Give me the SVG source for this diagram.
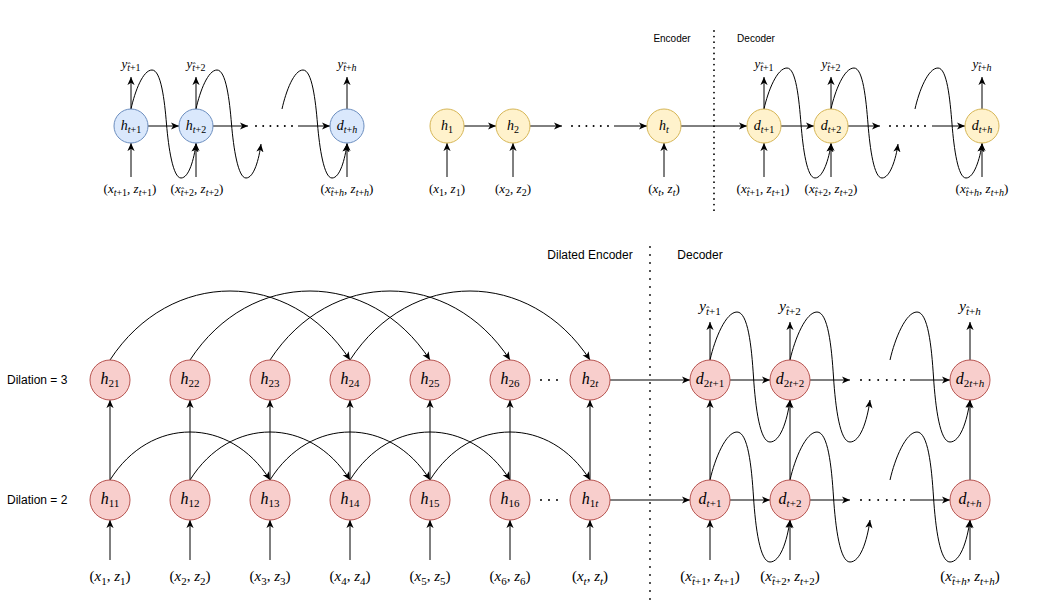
<svg xmlns="http://www.w3.org/2000/svg" width="1041" height="603" viewBox="0 0 1041 603">
<style>
.bg{fill:#fff}
.blue{fill:#dae8fc;stroke:#6c8ebf;stroke-width:1}
.yel{fill:#fff2cc;stroke:#d6b656;stroke-width:1}
.red{fill:#f8cecc;stroke:#b85450;stroke-width:1}
.e{fill:none;stroke:#000;stroke-width:1;marker-end:url(#a)}
.dot{fill:none;stroke:#000;stroke-width:2;stroke-linecap:round}
.vd{fill:none;stroke:#000;stroke-width:1.8;stroke-linecap:round}
.m{font-family:"Liberation Serif","DejaVu Serif",serif;text-anchor:middle;fill:#000}
.i{font-style:italic}
.b{font-size:16px}
.bl{font-size:15px}
.bs{font-size:11px}
.t{font-size:14px}
.tl{font-size:13px}
.ts{font-size:10px}
.lab{font-family:"Liberation Sans",Arial,sans-serif;fill:#000}
</style>
<defs>
<marker id="a" viewBox="0 0 10 10" refX="9" refY="5" markerWidth="9" markerHeight="9" orient="auto" markerUnits="userSpaceOnUse">
<path d="M0,1 L9,5 L0,9 L2.5,5 z" fill="#000"/>
</marker>
</defs>
<rect class="bg" x="0" y="0" width="1041" height="603"/>

<g id="connectors">
<!-- top left -->
<line class="e" x1="148" y1="126" x2="179" y2="126"/>
<line class="e" x1="213" y1="126" x2="248" y2="126"/>
<line class="dot" x1="256" y1="126" x2="292.5" y2="126" stroke-dasharray="0 7.2"/>
<line class="e" x1="298" y1="126" x2="330" y2="126"/>
<line class="e" x1="131" y1="109" x2="131" y2="77"/>
<line class="e" x1="196" y1="109" x2="196" y2="77"/>
<line class="e" x1="347" y1="109" x2="347" y2="77"/>
<line class="e" x1="131" y1="177" x2="131" y2="143"/>
<line class="e" x1="196" y1="177" x2="196" y2="143"/>
<line class="e" x1="347" y1="177" x2="347" y2="143"/>
<path class="e" transform="translate(131,109)" d="M0,0 C4,-18 12,-39 21,-39 C30,-39 33.5,-9 35.5,15 C37.5,39 42,69 50,69 C58,69 63,50 65,35"/>
<path class="e" transform="translate(196,109)" d="M0,0 C4,-18 12,-39 21,-39 C30,-39 33.5,-9 35.5,15 C37.5,39 42,69 50,69 C58,69 63,50 65,35"/>
<path class="e" transform="translate(282,109)" d="M0,0 C4,-18 12,-39 21,-39 C30,-39 33.5,-9 35.5,15 C37.5,39 42,69 50,69 C58,69 63,50 65,35"/>
<!-- top middle -->
<line class="e" x1="464" y1="126" x2="496" y2="126"/>
<line class="e" x1="530" y1="126" x2="562" y2="126"/>
<line class="dot" x1="572" y1="126" x2="608.5" y2="126" stroke-dasharray="0 7.2"/>
<line class="e" x1="614" y1="126" x2="647" y2="126"/>
<line class="e" x1="681" y1="126" x2="747" y2="126"/>
<line class="e" x1="447" y1="177" x2="447" y2="143"/>
<line class="e" x1="513" y1="177" x2="513" y2="143"/>
<line class="e" x1="664" y1="177" x2="664" y2="143"/>
<line class="vd" x1="714" y1="31" x2="714" y2="212" stroke-dasharray="0 5.6"/>
<!-- top right -->
<line class="e" x1="781" y1="126" x2="814" y2="126"/>
<line class="e" x1="848" y1="126" x2="880" y2="126"/>
<line class="dot" x1="890" y1="126" x2="925.5" y2="126" stroke-dasharray="0 7"/>
<line class="e" x1="932" y1="126" x2="965" y2="126"/>
<line class="e" x1="764" y1="109" x2="764" y2="77"/>
<line class="e" x1="831" y1="109" x2="831" y2="77"/>
<line class="e" x1="982" y1="109" x2="982" y2="77"/>
<line class="e" x1="764" y1="177" x2="764" y2="143"/>
<line class="e" x1="831" y1="177" x2="831" y2="143"/>
<line class="e" x1="982" y1="177" x2="982" y2="143"/>
<path class="e" transform="translate(764,109)" d="M0,0 C4,-18 13,-41 23,-41 C32,-41 35,-10 37,15 C39,40 43,69 51,69 C59,69 65,50 67,35"/>
<path class="e" transform="translate(831,109)" d="M0,0 C4,-18 13,-41 23,-41 C32,-41 35,-10 37,15 C39,40 43,69 51,69 C59,69 65,50 67,35"/>
<path class="e" transform="translate(915,109)" d="M0,0 C4,-18 13,-41 23,-41 C32,-41 35,-10 37,15 C39,40 43,69 51,69 C59,69 65,50 67,35"/>

<!-- bottom: dilation 3 arcs -->
<path class="e" d="M110,360 C170,268 290,268 350,360"/>
<path class="e" d="M190,360 C250,268 370,268 430,360"/>
<path class="e" d="M270,360 C330,268 450,268 510,360"/>
<path class="e" d="M350,360 C410,268 530,268 590,360"/>
<!-- dilation 2 arcs -->
<path class="e" d="M110,480 C150,416 230,416 270,480"/>
<path class="e" d="M190,480 C230,416 310,416 350,480"/>
<path class="e" d="M270,480 C310,416 390,416 430,480"/>
<path class="e" d="M350,480 C390,416 470,416 510,480"/>
<path class="e" d="M430,480 C470,416 550,416 590,480"/>
<!-- vertical level 1 -> level 2 -->
<line class="e" x1="110" y1="480" x2="110" y2="400"/>
<line class="e" x1="190" y1="480" x2="190" y2="400"/>
<line class="e" x1="270" y1="480" x2="270" y2="400"/>
<line class="e" x1="350" y1="480" x2="350" y2="400"/>
<line class="e" x1="430" y1="480" x2="430" y2="400"/>
<line class="e" x1="510" y1="480" x2="510" y2="400"/>
<line class="e" x1="590" y1="480" x2="590" y2="400"/>
<line class="e" x1="710" y1="480" x2="710" y2="400"/>
<line class="e" x1="790" y1="480" x2="790" y2="400"/>
<line class="e" x1="970" y1="480" x2="970" y2="400"/>
<!-- inputs -->
<line class="e" x1="110" y1="560" x2="110" y2="520"/>
<line class="e" x1="190" y1="560" x2="190" y2="520"/>
<line class="e" x1="270" y1="560" x2="270" y2="520"/>
<line class="e" x1="350" y1="560" x2="350" y2="520"/>
<line class="e" x1="430" y1="560" x2="430" y2="520"/>
<line class="e" x1="510" y1="560" x2="510" y2="520"/>
<line class="e" x1="590" y1="560" x2="590" y2="520"/>
<line class="e" x1="710" y1="560" x2="710" y2="520"/>
<line class="e" x1="790" y1="560" x2="790" y2="520"/>
<line class="e" x1="970" y1="560" x2="970" y2="520"/>
<!-- outputs -->
<line class="e" x1="710" y1="360" x2="710" y2="322"/>
<line class="e" x1="790" y1="360" x2="790" y2="322"/>
<line class="e" x1="970" y1="360" x2="970" y2="322"/>
<!-- ellipsis dots -->
<line class="dot" x1="541" y1="380" x2="557.5" y2="380" stroke-dasharray="0 8"/>
<line class="dot" x1="541" y1="500" x2="557.5" y2="500" stroke-dasharray="0 8"/>
<!-- encoder -> decoder -->
<line class="e" x1="610" y1="380" x2="690" y2="380"/>
<line class="e" x1="610" y1="500" x2="690" y2="500"/>
<line class="vd" x1="650" y1="247" x2="650" y2="600" stroke-dasharray="0 8"/>
<!-- decoder rows -->
<line class="e" x1="730" y1="380" x2="770" y2="380"/>
<line class="e" x1="810" y1="380" x2="850" y2="380"/>
<line class="dot" x1="861" y1="380" x2="904.5" y2="380" stroke-dasharray="0 8.6"/>
<line class="e" x1="910" y1="380" x2="950" y2="380"/>
<line class="e" x1="730" y1="500" x2="770" y2="500"/>
<line class="e" x1="810" y1="500" x2="850" y2="500"/>
<line class="dot" x1="861" y1="500" x2="904.5" y2="500" stroke-dasharray="0 8.6"/>
<line class="e" x1="910" y1="500" x2="950" y2="500"/>
<path class="e" transform="translate(710,360)" d="M0,0 C5,-22 16,-48 27,-48 C38,-48 41.5,-14 43.5,17 C45.5,48 50,82 60,82 C70,82 77,62 80,40"/>
<path class="e" transform="translate(790,360)" d="M0,0 C5,-22 16,-48 27,-48 C38,-48 41.5,-14 43.5,17 C45.5,48 50,82 60,82 C70,82 77,62 80,40"/>
<path class="e" transform="translate(890,360)" d="M0,0 C5,-22 16,-48 27,-48 C38,-48 41.5,-14 43.5,17 C45.5,48 50,82 60,82 C70,82 77,62 80,40"/>
<path class="e" transform="translate(710,480)" d="M0,0 C5,-22 16,-48 27,-48 C38,-48 41.5,-14 43.5,17 C45.5,48 50,82 60,82 C70,82 77,62 80,40"/>
<path class="e" transform="translate(790,480)" d="M0,0 C5,-22 16,-48 27,-48 C38,-48 41.5,-14 43.5,17 C45.5,48 50,82 60,82 C70,82 77,62 80,40"/>
<path class="e" transform="translate(890,480)" d="M0,0 C5,-22 16,-48 27,-48 C38,-48 41.5,-14 43.5,17 C45.5,48 50,82 60,82 C70,82 77,62 80,40"/>
</g>

<!-- TOP LEFT NODES -->
<g id="tl_h1"><circle class="blue" cx="131" cy="126" r="17"/><text class="m t" x="131" y="130"><tspan class="i">h</tspan><tspan class="ts" dy="3"><tspan class="i">t</tspan>+1</tspan></text></g>
<g id="tl_h2"><circle class="blue" cx="196" cy="126" r="17"/><text class="m t" x="196" y="130"><tspan class="i">h</tspan><tspan class="ts" dy="3"><tspan class="i">t</tspan>+2</tspan></text></g>
<g id="tl_dh"><circle class="blue" cx="347" cy="126" r="17"/><text class="m t" x="347" y="130"><tspan class="i">d</tspan><tspan class="ts" dy="3"><tspan class="i">t</tspan>+<tspan class="i">h</tspan></tspan></text></g>
<g id="tl_labels">
<text class="m tl" x="131" y="68"><tspan class="i">y</tspan><tspan class="ts" dy="3"><tspan class="i">t&#x302;</tspan>+1</tspan></text>
<text class="m tl" x="196" y="68"><tspan class="i">y</tspan><tspan class="ts" dy="3"><tspan class="i">t&#x302;</tspan>+2</tspan></text>
<text class="m tl" x="347" y="68"><tspan class="i">y</tspan><tspan class="ts" dy="3"><tspan class="i">t&#x302;</tspan>+<tspan class="i">h</tspan></tspan></text>
<text class="m tl" x="130" y="193">(<tspan class="i">x</tspan><tspan class="ts" dy="3"><tspan class="i">t</tspan>+1</tspan><tspan dy="-3">, </tspan><tspan class="i">z</tspan><tspan class="ts" dy="3"><tspan class="i">t</tspan>+1</tspan><tspan dy="-3">)</tspan></text>
<text class="m tl" x="197" y="193">(<tspan class="i">x</tspan><tspan class="ts" dy="3"><tspan class="i">t&#x302;</tspan>+2</tspan><tspan dy="-3">, </tspan><tspan class="i">z</tspan><tspan class="ts" dy="3"><tspan class="i">t</tspan>+2</tspan><tspan dy="-3">)</tspan></text>
<text class="m tl" x="347" y="193">(<tspan class="i">x</tspan><tspan class="ts" dy="3"><tspan class="i">t&#x302;</tspan>+<tspan class="i">h</tspan></tspan><tspan dy="-3">, </tspan><tspan class="i">z</tspan><tspan class="ts" dy="3"><tspan class="i">t</tspan>+<tspan class="i">h</tspan></tspan><tspan dy="-3">)</tspan></text>
</g>

<!-- TOP MIDDLE NODES -->
<g id="tm_h1"><circle class="yel" cx="447" cy="126" r="17"/><text class="m t" x="447" y="130"><tspan class="i">h</tspan><tspan class="ts" dy="3">1</tspan></text></g>
<g id="tm_h2"><circle class="yel" cx="513" cy="126" r="17"/><text class="m t" x="513" y="130"><tspan class="i">h</tspan><tspan class="ts" dy="3">2</tspan></text></g>
<g id="tm_ht"><circle class="yel" cx="664" cy="126" r="17"/><text class="m t" x="664" y="130"><tspan class="i">h</tspan><tspan class="ts i" dy="3">t</tspan></text></g>
<g id="tm_labels">
<text class="m tl" x="447" y="193">(<tspan class="i">x</tspan><tspan class="ts" dy="3">1</tspan><tspan dy="-3">, </tspan><tspan class="i">z</tspan><tspan class="ts" dy="3">1</tspan><tspan dy="-3">)</tspan></text>
<text class="m tl" x="513" y="193">(<tspan class="i">x</tspan><tspan class="ts" dy="3">2</tspan><tspan dy="-3">, </tspan><tspan class="i">z</tspan><tspan class="ts" dy="3">2</tspan><tspan dy="-3">)</tspan></text>
<text class="m tl" x="664" y="193">(<tspan class="i">x</tspan><tspan class="ts i" dy="3">t</tspan><tspan dy="-3">, </tspan><tspan class="i">z</tspan><tspan class="ts i" dy="3">t</tspan><tspan dy="-3">)</tspan></text>
<text class="lab" x="672" y="42" font-size="10" text-anchor="middle">Encoder</text>
<text class="lab" x="756" y="42" font-size="10" text-anchor="middle">Decoder</text>
</g>

<!-- TOP RIGHT NODES -->
<g id="tr_d1"><circle class="yel" cx="764" cy="126" r="17"/><text class="m t" x="764" y="130"><tspan class="i">d</tspan><tspan class="ts" dy="3"><tspan class="i">t</tspan>+1</tspan></text></g>
<g id="tr_d2"><circle class="yel" cx="831" cy="126" r="17"/><text class="m t" x="831" y="130"><tspan class="i">d</tspan><tspan class="ts" dy="3"><tspan class="i">t</tspan>+2</tspan></text></g>
<g id="tr_dh"><circle class="yel" cx="982" cy="126" r="17"/><text class="m t" x="982" y="130"><tspan class="i">d</tspan><tspan class="ts" dy="3"><tspan class="i">t</tspan>+<tspan class="i">h</tspan></tspan></text></g>
<g id="tr_labels">
<text class="m tl" x="764" y="68"><tspan class="i">y</tspan><tspan class="ts" dy="3"><tspan class="i">t&#x302;</tspan>+1</tspan></text>
<text class="m tl" x="831" y="68"><tspan class="i">y</tspan><tspan class="ts" dy="3"><tspan class="i">t&#x302;</tspan>+2</tspan></text>
<text class="m tl" x="982" y="68"><tspan class="i">y</tspan><tspan class="ts" dy="3"><tspan class="i">t&#x302;</tspan>+<tspan class="i">h</tspan></tspan></text>
<text class="m tl" x="763" y="193">(<tspan class="i">x</tspan><tspan class="ts" dy="3"><tspan class="i">t&#x302;</tspan>+1</tspan><tspan dy="-3">, </tspan><tspan class="i">z</tspan><tspan class="ts" dy="3"><tspan class="i">t</tspan>+1</tspan><tspan dy="-3">)</tspan></text>
<text class="m tl" x="831" y="193">(<tspan class="i">x</tspan><tspan class="ts" dy="3"><tspan class="i">t&#x302;</tspan>+2</tspan><tspan dy="-3">, </tspan><tspan class="i">z</tspan><tspan class="ts" dy="3"><tspan class="i">t</tspan>+2</tspan><tspan dy="-3">)</tspan></text>
<text class="m tl" x="982" y="193">(<tspan class="i">x</tspan><tspan class="ts" dy="3"><tspan class="i">t&#x302;</tspan>+<tspan class="i">h</tspan></tspan><tspan dy="-3">, </tspan><tspan class="i">z</tspan><tspan class="ts" dy="3"><tspan class="i">t</tspan>+<tspan class="i">h</tspan></tspan><tspan dy="-3">)</tspan></text>
</g>

<!-- BOTTOM -->
<g id="bottom_titles">
<text class="lab" x="7" y="384" font-size="12">Dilation = 3</text>
<text class="lab" x="7" y="504" font-size="12">Dilation = 2</text>
<text class="lab" x="590" y="259" font-size="12" text-anchor="middle">Dilated Encoder</text>
<text class="lab" x="700" y="259" font-size="12" text-anchor="middle">Decoder</text>
</g>
<g id="h21"><circle class="red" cx="110" cy="380" r="20"/><text class="m b" x="110" y="384"><tspan class="i">h</tspan><tspan class="bs" dy="3">21</tspan></text></g>
<g id="h22"><circle class="red" cx="190" cy="380" r="20"/><text class="m b" x="190" y="384"><tspan class="i">h</tspan><tspan class="bs" dy="3">22</tspan></text></g>
<g id="h23"><circle class="red" cx="270" cy="380" r="20"/><text class="m b" x="270" y="384"><tspan class="i">h</tspan><tspan class="bs" dy="3">23</tspan></text></g>
<g id="h24"><circle class="red" cx="350" cy="380" r="20"/><text class="m b" x="350" y="384"><tspan class="i">h</tspan><tspan class="bs" dy="3">24</tspan></text></g>
<g id="h25"><circle class="red" cx="430" cy="380" r="20"/><text class="m b" x="430" y="384"><tspan class="i">h</tspan><tspan class="bs" dy="3">25</tspan></text></g>
<g id="h26"><circle class="red" cx="510" cy="380" r="20"/><text class="m b" x="510" y="384"><tspan class="i">h</tspan><tspan class="bs" dy="3">26</tspan></text></g>
<g id="h2t"><circle class="red" cx="590" cy="380" r="20"/><text class="m b" x="590" y="384"><tspan class="i">h</tspan><tspan class="bs" dy="3">2<tspan class="i">t</tspan></tspan></text></g>
<g id="h11"><circle class="red" cx="110" cy="500" r="20"/><text class="m b" x="110" y="504"><tspan class="i">h</tspan><tspan class="bs" dy="3">11</tspan></text></g>
<g id="h12"><circle class="red" cx="190" cy="500" r="20"/><text class="m b" x="190" y="504"><tspan class="i">h</tspan><tspan class="bs" dy="3">12</tspan></text></g>
<g id="h13"><circle class="red" cx="270" cy="500" r="20"/><text class="m b" x="270" y="504"><tspan class="i">h</tspan><tspan class="bs" dy="3">13</tspan></text></g>
<g id="h14"><circle class="red" cx="350" cy="500" r="20"/><text class="m b" x="350" y="504"><tspan class="i">h</tspan><tspan class="bs" dy="3">14</tspan></text></g>
<g id="h15"><circle class="red" cx="430" cy="500" r="20"/><text class="m b" x="430" y="504"><tspan class="i">h</tspan><tspan class="bs" dy="3">15</tspan></text></g>
<g id="h16"><circle class="red" cx="510" cy="500" r="20"/><text class="m b" x="510" y="504"><tspan class="i">h</tspan><tspan class="bs" dy="3">16</tspan></text></g>
<g id="h1t"><circle class="red" cx="590" cy="500" r="20"/><text class="m b" x="590" y="504"><tspan class="i">h</tspan><tspan class="bs" dy="3">1<tspan class="i">t</tspan></tspan></text></g>
<g id="d2t1"><circle class="red" cx="710" cy="380" r="20"/><text class="m b" x="710" y="384"><tspan class="i">d</tspan><tspan class="bs" dy="3">2<tspan class="i">t</tspan>+1</tspan></text></g>
<g id="d2t2"><circle class="red" cx="790" cy="380" r="20"/><text class="m b" x="790" y="384"><tspan class="i">d</tspan><tspan class="bs" dy="3">2<tspan class="i">t</tspan>+2</tspan></text></g>
<g id="d2th"><circle class="red" cx="970" cy="380" r="20"/><text class="m b" x="970" y="384"><tspan class="i">d</tspan><tspan class="bs" dy="3">2<tspan class="i">t</tspan>+<tspan class="i">h</tspan></tspan></text></g>
<g id="dt1"><circle class="red" cx="710" cy="500" r="20"/><text class="m b" x="710" y="504"><tspan class="i">d</tspan><tspan class="bs" dy="3"><tspan class="i">t</tspan>+1</tspan></text></g>
<g id="dt2"><circle class="red" cx="790" cy="500" r="20"/><text class="m b" x="790" y="504"><tspan class="i">d</tspan><tspan class="bs" dy="3"><tspan class="i">t</tspan>+2</tspan></text></g>
<g id="dth"><circle class="red" cx="970" cy="500" r="20"/><text class="m b" x="970" y="504"><tspan class="i">d</tspan><tspan class="bs" dy="3"><tspan class="i">t</tspan>+<tspan class="i">h</tspan></tspan></text></g>

<g id="bottom_labels">
<text class="m bl" x="710" y="311"><tspan class="i">y</tspan><tspan class="bs" dy="3.5"><tspan class="i">t&#x302;</tspan>+1</tspan></text>
<text class="m bl" x="790" y="311"><tspan class="i">y</tspan><tspan class="bs" dy="3.5"><tspan class="i">t&#x302;</tspan>+2</tspan></text>
<text class="m bl" x="970" y="311"><tspan class="i">y</tspan><tspan class="bs" dy="3.5"><tspan class="i">t&#x302;</tspan>+<tspan class="i">h</tspan></tspan></text>
<text class="m bl" x="110" y="581">(<tspan class="i">x</tspan><tspan class="bs" dy="3.5">1</tspan><tspan dy="-3.5">, </tspan><tspan class="i">z</tspan><tspan class="bs" dy="3.5">1</tspan><tspan dy="-3.5">)</tspan></text>
<text class="m bl" x="190" y="581">(<tspan class="i">x</tspan><tspan class="bs" dy="3.5">2</tspan><tspan dy="-3.5">, </tspan><tspan class="i">z</tspan><tspan class="bs" dy="3.5">2</tspan><tspan dy="-3.5">)</tspan></text>
<text class="m bl" x="270" y="581">(<tspan class="i">x</tspan><tspan class="bs" dy="3.5">3</tspan><tspan dy="-3.5">, </tspan><tspan class="i">z</tspan><tspan class="bs" dy="3.5">3</tspan><tspan dy="-3.5">)</tspan></text>
<text class="m bl" x="350" y="581">(<tspan class="i">x</tspan><tspan class="bs" dy="3.5">4</tspan><tspan dy="-3.5">, </tspan><tspan class="i">z</tspan><tspan class="bs" dy="3.5">4</tspan><tspan dy="-3.5">)</tspan></text>
<text class="m bl" x="430" y="581">(<tspan class="i">x</tspan><tspan class="bs" dy="3.5">5</tspan><tspan dy="-3.5">, </tspan><tspan class="i">z</tspan><tspan class="bs" dy="3.5">5</tspan><tspan dy="-3.5">)</tspan></text>
<text class="m bl" x="510" y="581">(<tspan class="i">x</tspan><tspan class="bs" dy="3.5">6</tspan><tspan dy="-3.5">, </tspan><tspan class="i">z</tspan><tspan class="bs" dy="3.5">6</tspan><tspan dy="-3.5">)</tspan></text>
<text class="m bl" x="590" y="581">(<tspan class="i">x</tspan><tspan class="bs i" dy="3.5">t</tspan><tspan dy="-3.5">, </tspan><tspan class="i">z</tspan><tspan class="bs i" dy="3.5">t</tspan><tspan dy="-3.5">)</tspan></text>
<text class="m bl" x="710" y="581">(<tspan class="i">x</tspan><tspan class="bs" dy="3.5"><tspan class="i">t&#x302;</tspan>+1</tspan><tspan dy="-3.5">, </tspan><tspan class="i">z</tspan><tspan class="bs" dy="3.5"><tspan class="i">t</tspan>+1</tspan><tspan dy="-3.5">)</tspan></text>
<text class="m bl" x="790" y="581">(<tspan class="i">x</tspan><tspan class="bs" dy="3.5"><tspan class="i">t&#x302;</tspan>+2</tspan><tspan dy="-3.5">, </tspan><tspan class="i">z</tspan><tspan class="bs" dy="3.5"><tspan class="i">t</tspan>+2</tspan><tspan dy="-3.5">)</tspan></text>
<text class="m bl" x="970" y="581">(<tspan class="i">x</tspan><tspan class="bs" dy="3.5"><tspan class="i">t&#x302;</tspan>+<tspan class="i">h</tspan></tspan><tspan dy="-3.5">, </tspan><tspan class="i">z</tspan><tspan class="bs" dy="3.5"><tspan class="i">t</tspan>+<tspan class="i">h</tspan></tspan><tspan dy="-3.5">)</tspan></text>
</g>
</svg>
